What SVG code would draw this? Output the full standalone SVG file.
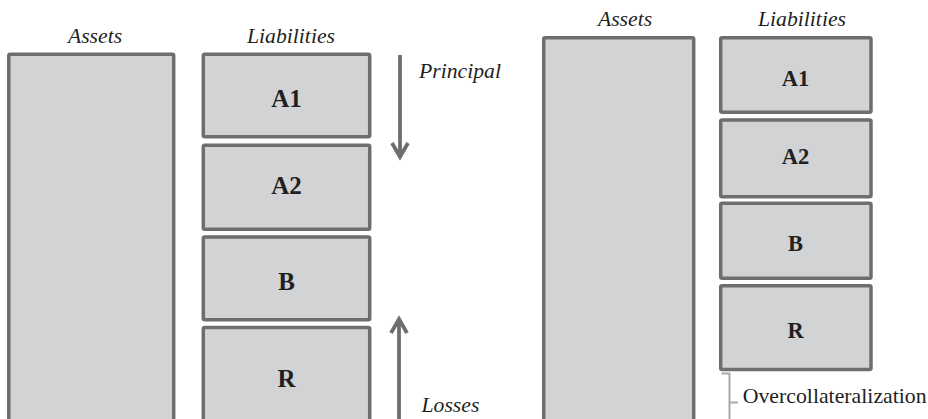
<svg xmlns="http://www.w3.org/2000/svg" width="928" height="419" viewBox="0 0 928 419">
<style>
.box{fill:#d1d3d4;stroke:#6d6e70;stroke-width:3.5}
.hd{font-style:italic;font-size:21.7px;text-anchor:middle}
.lb{font-weight:bold;font-size:25px;text-anchor:middle}
.lbs{font-weight:bold;font-size:22.5px;text-anchor:middle}
.it{font-style:italic;font-size:21.7px}
.rg{font-size:21.8px}
.arr{fill:none;stroke:#6d6e70;stroke-width:3.8}
.brk{fill:none;stroke:#a7a9ac;stroke-width:2}
</style>
<rect width="928" height="419" fill="#ffffff"/>
<g font-family="Liberation Serif, Times New Roman, serif" fill="#231f20">
<g id="left-headers">
<text class="hd" x="95" y="43">Assets</text>
<text class="hd" x="291" y="43">Liabilities</text>
</g>
<g id="left-assets"><rect class="box" x="8.8" y="54.3" width="164.9" height="380" rx="1.5"/></g>
<g id="left-A1"><rect class="box" x="203.3" y="54.3" width="166.4" height="82.4" rx="1.5"/><text class="lb" x="286.5" y="107">A1</text></g>
<g id="left-A2"><rect class="box" x="203.3" y="145.3" width="166.4" height="83.9" rx="1.5"/><text class="lb" x="286.5" y="194">A2</text></g>
<g id="left-B"><rect class="box" x="203.3" y="237" width="166.4" height="82.7" rx="1.5"/><text class="lb" x="286.5" y="290">B</text></g>
<g id="left-R"><rect class="box" x="203.3" y="327.5" width="166.4" height="110" rx="1.5"/><text class="lb" x="286.5" y="386.7">R</text></g>
<g id="connectors">
<path class="arr" d="M400 55 V157"/>
<path class="arr" d="M392 143 L400 157 L408 143"/>
<path class="arr" d="M399 419 V319"/>
<path class="arr" d="M391 333 L399 319 L407 333"/>
<path class="brk" d="M721.5 373.5 H729.5 V419 M729.5 402.5 H738"/>
</g>
<g id="arrow-labels">
<text class="it" x="419" y="78">Principal</text>
<text class="it" x="421.5" y="411.7">Losses</text>
</g>
<g id="right-headers">
<text class="hd" x="625" y="26">Assets</text>
<text class="hd" x="802" y="26">Liabilities</text>
</g>
<g id="right-assets"><rect class="box" x="543.7" y="37.8" width="150" height="400" rx="1.5"/></g>
<g id="right-A1"><rect class="box" x="720.7" y="37.8" width="150.3" height="74.5" rx="1.5"/><text class="lbs" x="795.5" y="86">A1</text></g>
<g id="right-A2"><rect class="box" x="720.7" y="120" width="150.3" height="76.7" rx="1.5"/><text class="lbs" x="795.5" y="164">A2</text></g>
<g id="right-B"><rect class="box" x="720.7" y="203.3" width="150.3" height="75" rx="1.5"/><text class="lbs" x="795.5" y="250.7">B</text></g>
<g id="right-R"><rect class="box" x="720.7" y="285.7" width="150.3" height="83.8" rx="1.5"/><text class="lbs" x="795.5" y="338.3">R</text></g>
<g id="overcollateralization"><text class="rg" x="742.7" y="403">Overcollateralization</text></g>
</g>
</svg>
